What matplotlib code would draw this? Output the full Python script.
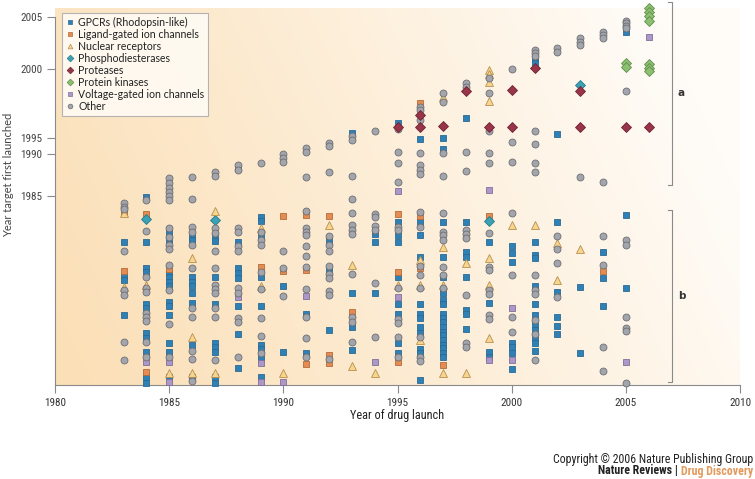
import matplotlib.pyplot as plt
import numpy as np
import pandas as pd
from matplotlib import font_manager
from matplotlib.lines import Line2D

# Vertical level of each point (0 = x axis, ticks below give the target years)
# class codes: G GPCR, L ligand-gated, N nuclear receptor, P PDE,
#              R protease, K kinase, V voltage-gated, O other
pts_1983 = [(182, "O"), (178, "O"), (176, "O"), (172, "L"), (172, "N"), (143, "G"), (134, "O"),
            (114, "L"), (109, "G"), (105, "G"), (98, "N"), (95, "O"), (90, "O"), (70, "G"),
            (43, "O"), (25, "O")]
pts_1984 = [(188, "G"), (185, "O"), (171, "L"), (166, "P"), (154, "O"), (143, "G"), (117, "G"),
            (113, "G"), (108, "O"), (100, "N"), (97, "O"), (93, "O"), (81, "G"), (77, "G"),
            (72, "O"), (68, "O"), (64, "O"), (52, "G"), (47, "G"), (43, "O"), (33, "G"),
            (28, "O"), (23, "V"), (13, "L"), (8, "G"), (2, "G")]
pts_1985 = [(207, "O"), (202, "O"), (197, "O"), (193, "O"), (189, "O"), (185, "O"), (157, "O"),
            (152, "G"), (148, "O"), (145, "G"), (140, "O"), (136, "O"), (120, "O"), (116, "L"),
            (112, "G"), (108, "G"), (103, "G"), (99, "G"), (95, "O"), (83, "G"), (79, "G"),
            (70, "G"), (61, "O"), (42, "G"), (33, "G"), (28, "O"), (23, "V"), (12, "N"),
            (8, "G"), (3, "V")]
pts_1986 = [(208, "O"), (186, "O"), (158, "O"), (153, "O"), (148, "G"), (145, "G"), (140, "O"),
            (127, "N"), (117, "O"), (108, "G"), (103, "G"), (99, "G"), (92, "G"), (82, "G"),
            (77, "O"), (68, "O"), (48, "N"), (40, "G"), (34, "O"), (26, "O"), (12, "N"),
            (8, "G"), (4, "O")]
pts_1987 = [(213, "O"), (209, "O"), (174, "N"), (165, "P"), (157, "O"), (152, "O"), (148, "G"),
            (144, "G"), (134, "O"), (117, "O"), (108, "G"), (100, "O"), (96, "O"), (92, "O"),
            (81, "G"), (77, "O"), (68, "O"), (42, "G"), (38, "G"), (33, "G"), (25, "O"),
            (12, "N"), (8, "G"), (2, "G")]
pts_1988 = [(220, "O"), (217, "G"), (215, "O"), (157, "O"), (153, "O"), (143, "G"), (139, "O"),
            (134, "O"), (117, "G"), (112, "G"), (107, "G"), (97, "O"), (92, "O"), (88, "V"),
            (79, "G"), (67, "O"), (63, "O"), (51, "G"), (28, "O"), (17, "G")]
pts_1989 = [(222, "O"), (168, "G"), (164, "G"), (157, "N"), (153, "O"), (149, "G"), (145, "O"),
            (140, "O"), (118, "L"), (113, "O"), (108, "G"), (99, "N"), (96, "O"), (79, "G"),
            (67, "O"), (49, "O"), (40, "G"), (36, "G"), (32, "O"), (27, "G"), (22, "V"),
            (8, "G"), (3, "V")]
pts_1990 = [(231, "O"), (227, "O"), (223, "O"), (169, "L"), (134, "O"), (117, "O"), (114, "L"),
            (99, "G"), (89, "O"), (33, "G"), (12, "N"), (3, "V")]
pts_1991 = [(237, "O"), (233, "O"), (208, "O"), (174, "O"), (170, "L"), (157, "O"), (153, "O"),
            (150, "O"), (139, "O"), (129, "O"), (118, "O"), (115, "L"), (96, "O"), (89, "V"),
            (71, "G"), (68, "O"), (47, "O"), (32, "G"), (28, "O"), (21, "L")]
pts_1992 = [(242, "O"), (239, "O"), (213, "O"), (169, "L"), (160, "N"), (149, "O"), (144, "G"),
            (140, "O"), (134, "O"), (119, "O"), (115, "G"), (111, "O"), (107, "O"), (94, "O"),
            (90, "O"), (55, "G"), (30, "L"), (26, "O"), (22, "L")]
pts_1993 = [(252, "G"), (249, "O"), (245, "O"), (209, "O"), (186, "O"), (172, "O"), (160, "O"),
            (155, "O"), (151, "O"), (120, "N"), (111, "O"), (92, "G"), (73, "L"), (68, "O"),
            (63, "O"), (58, "G"), (43, "O"), (35, "G"), (19, "N")]
pts_1994 = [(254, "O"), (171, "O"), (168, "O"), (159, "O"), (155, "O"), (151, "G"), (143, "G"),
            (102, "O"), (92, "G"), (48, "O"), (23, "V"), (12, "N")]
pts_1995 = [(262, "G"), (256, "O"), (258, "R"), (233, "O"), (222, "O"), (203, "O"), (194, "V"),
            (171, "L"), (163, "G"), (158, "O"), (155, "O"), (150, "G"), (143, "G"), (113, "L"),
            (108, "G"), (100, "N"), (97, "O"), (88, "V"), (81, "G"), (71, "G"), (66, "O"),
            (62, "O"), (48, "O"), (42, "G"), (32, "G"), (28, "O"), (23, "L")]
pts_1996 = [(282, "L"), (278, "O"), (275, "O"), (270, "R"), (265, "O"), (258, "R"), (246, "G"),
            (232, "O"), (220, "O"), (215, "O"), (211, "O"), (173, "O"), (169, "L"), (163, "G"),
            (158, "O"), (150, "G"), (128, "G"), (125, "N"), (119, "O"), (117, "L"), (110, "O"),
            (100, "N"), (97, "O"), (81, "G"), (71, "G"), (67, "G"), (58, "G"), (52, "G"),
            (48, "O"), (45, "N"), (36, "G"), (32, "G"), (28, "O"), (24, "O"), (5, "G")]
pts_1997 = [(292, "O"), (288, "N"), (283, "O"), (259, "R"), (247, "G"), (236, "G"), (232, "O"),
            (209, "O"), (172, "O"), (163, "G"), (153, "O"), (150, "O"), (145, "O"), (138, "N"),
            (128, "G"), (118, "O"), (110, "O"), (108, "G"), (100, "N"), (97, "O"), (92, "G"),
            (85, "G"), (81, "G"), (71, "G"), (67, "G"), (63, "G"), (58, "G"), (53, "G"),
            (50, "G"), (45, "G"), (40, "G"), (37, "G"), (32, "G"), (28, "G"), (20, "L"),
            (12, "N")]
pts_1998 = [(302, "O"), (298, "O"), (294, "R"), (267, "G"), (233, "O"), (214, "O"), (163, "G"),
            (155, "O"), (151, "O"), (147, "O"), (133, "G"), (128, "G"), (122, "N"), (108, "G"),
            (90, "O"), (75, "G"), (71, "G"), (56, "G"), (42, "O"), (38, "O"), (12, "N")]
pts_1999 = [(315, "N"), (311, "N"), (307, "O"), (303, "N"), (292, "O"), (284, "N"), (254, "O"),
            (258, "R"), (232, "O"), (222, "O"), (195, "V"), (169, "L"), (164, "P"), (152, "O"),
            (143, "G"), (127, "N"), (118, "O"), (115, "O"), (100, "N"), (95, "O"), (91, "O"),
            (82, "G"), (70, "O"), (66, "O"), (47, "N"), (33, "G"), (28, "G"), (25, "V")]
pts_2000 = [(316, "O"), (295, "R"), (258, "R"), (243, "O"), (223, "O"), (172, "O"), (160, "N"),
            (139, "G"), (132, "G"), (123, "G"), (110, "O"), (77, "V"), (68, "O"), (53, "O"),
            (42, "G"), (38, "G"), (32, "G"), (25, "V"), (16, "G")]
pts_2001 = [(335, "O"), (332, "O"), (329, "O"), (326, "G"), (322, "G"), (317, "R"), (254, "O"),
            (241, "O"), (222, "O"), (213, "O"), (160, "N"), (143, "G"), (130, "G"), (127, "G"),
            (110, "O"), (99, "G"), (95, "O"), (91, "O"), (81, "G"), (70, "G"), (65, "O"),
            (60, "G"), (55, "G"), (51, "O"), (47, "G"), (42, "G"), (34, "G"), (25, "O")]
pts_2002 = [(337, "O"), (333, "O"), (251, "G"), (163, "G"), (149, "O"), (142, "N"), (136, "O"),
            (122, "O"), (105, "N"), (93, "G"), (88, "O"), (68, "G"), (59, "G"), (51, "G")]
pts_2003 = [(347, "O"), (343, "O"), (340, "O"), (300, "P"), (294, "R"), (258, "R"), (208, "O"),
            (136, "N"), (98, "G"), (32, "G")]
pts_2004 = [(353, "O"), (350, "O"), (347, "O"), (203, "O"), (149, "O"), (133, "G"), (120, "O"),
            (114, "L"), (107, "G"), (79, "G"), (38, "O"), (14, "O")]
pts_2005 = [(364, "O"), (362, "O"), (359, "O"), (357, "O"), (353, "G"), (322, "K"), (318, "K"),
            (294, "O"), (258, "R"), (170, "G"), (145, "O"), (140, "O"), (97, "G"), (68, "O"),
            (57, "O"), (54, "O"), (23, "V"), (2, "O")]
pts_2006 = [(377, "K"), (373, "K"), (369, "K"), (364, "K"), (348, "V"), (321, "K"), (317, "K"),
            (314, "K"), (258, "R")]

launch_years = list(range(1983, 2007))
year_points = [pts_1983, pts_1984, pts_1985, pts_1986, pts_1987, pts_1988, pts_1989, pts_1990,
               pts_1991, pts_1992, pts_1993, pts_1994, pts_1995, pts_1996, pts_1997, pts_1998,
               pts_1999, pts_2000, pts_2001, pts_2002, pts_2003, pts_2004, pts_2005, pts_2006]

ytick_pos = [368, 316, 247, 231, 189]
ytick_labels = ["2005", "2000", "1995", "1990", "1985"]
xticks = [1980, 1985, 1990, 1995, 2000, 2005, 2010]

# label, marker, face, edge, size
STYLES = {
    "G": ("GPCRs (Rhodopsin-like)", "s", "#2f80b4", "#2a6a94", 4.8),
    "L": ("Ligand-gated ion channels", "s", "#e48c52", "#b56a3a", 4.8),
    "N": ("Nuclear receptors", "^", "#f8d58e", "#b89050", 6.2),
    "P": ("Phosphodiesterases", "D", "#3aa2b4", "#2a7a88", 4.6),
    "R": ("Proteases", "D", "#983549", "#6e2233", 4.6),
    "K": ("Protein kinases", "D", "#8cc070", "#5f8f4c", 4.6),
    "V": ("Voltage-gated ion channels", "s", "#ab98c8", "#7f6f9a", 4.8),
    "O": ("Other", "o", "#a3a5ac", "#6d6e73", 5.0),
}
LEGEND_ORDER = ["G", "L", "N", "P", "R", "K", "V", "O"]


def pick_narrow_font():
    names = sorted({f.name for f in font_manager.fontManager.ttflist})
    for want in ["Liberation Sans Narrow", "DejaVu Sans Condensed", "Roboto Condensed",
                 "Open Sans Condensed", "Noto Sans Condensed"]:
        if want in names:
            return [want, "DejaVu Sans"]
    return ["Roboto", "DejaVu Sans"]


rows = []
for yr, pts in zip(launch_years, year_points):
    for level, cls in pts:
        rows.append({"year": yr, "level": level, "cls": cls})
df = pd.DataFrame(rows)

narrow = pick_narrow_font()
body_font = ["Lato", "DejaVu Sans"]

fig = plt.figure(figsize=(7.55, 4.79), dpi=100)
fig.patch.set_facecolor("white")
ax = fig.add_axes([55 / 755, 1 - 385 / 479, 685 / 755, 385 / 479])
ax.set_xlim(1980, 2010)
ax.set_ylim(0, 385)
ax.set_facecolor("none")

# peach -> white background wash
nx, ny = 300, 120
gx = np.linspace(0, 1, nx)[None, :]
gy = np.linspace(0, 1, ny)[:, None]
t = np.clip(0.9 * gx + 0.22 * gy, 0, 1) ** 1.1
peach = np.array([251, 223, 182]) / 255
white = np.array([255, 252, 248]) / 255
img = peach[None, None, :] * (1 - t[..., None]) + white[None, None, :] * t[..., None]
ax.imshow(img, extent=[1980, 2010.3, 0, 377], origin="lower", aspect="auto", zorder=0)

for cls in ["G", "L", "V", "P", "N", "O", "R", "K"]:
    sub = df[df["cls"] == cls]
    label, mk, fc, ec, ms = STYLES[cls]
    ax.plot(sub["year"], sub["level"], linestyle="none", marker=mk, markersize=ms,
            markerfacecolor=fc, markeredgecolor=ec, markeredgewidth=0.6, zorder=3,
            clip_on=False)

for s in ["top", "right"]:
    ax.spines[s].set_visible(False)
ax.spines["left"].set_bounds(0, 368)
for s in ["left", "bottom"]:
    ax.spines[s].set_color("#8a8a8a")
    ax.spines[s].set_linewidth(0.8)

ax.set_yticks(ytick_pos)
ax.set_yticklabels(ytick_labels, family=narrow, fontsize=8, color="#444444")
ax.set_xticks(xticks)
ax.set_xticklabels([str(x) for x in xticks], family=narrow, fontsize=8, color="#333333")
ax.tick_params(axis="both", length=6, width=0.8, color="#8a8a8a", pad=3)

ax.set_xlabel("Year of drug launch", family=narrow, fontsize=8.8, color="#222222", labelpad=1)
fig.text(9 / 755, 1 - 175 / 479, "Year target first launched", rotation=90, ha="center",
         va="center", family=body_font, fontsize=8, color="#444444")

# brackets a and b
bx = 2007.03
for top, bot, lab in [(383, 200, "a"), (175, 3, "b")]:
    ax.plot([bx - 0.2, bx, bx, bx - 0.2], [top, top, bot, bot], color="#8a8a8a", lw=0.8,
            clip_on=False, zorder=2)
    ax.text(bx + 0.25, (top + bot) / 2, lab, fontsize=7.5, fontweight="bold",
            color="#333333", ha="left", va="center")

handles = [Line2D([], [], linestyle="none", marker=STYLES[c][1], markersize=3.4,
                  markerfacecolor=STYLES[c][2], markeredgecolor=STYLES[c][3],
                  markeredgewidth=0.5, label=STYLES[c][0]) for c in LEGEND_ORDER]
leg = ax.legend(handles=handles, loc="upper left", bbox_to_anchor=(7 / 685, 1 - 13 / 385),
                prop={"family": body_font, "size": 7.6},
                frameon=True, fancybox=False, handlelength=0.8, handletextpad=0.4,
                labelspacing=0.1, borderpad=0.35, borderaxespad=0)
leg.get_frame().set_edgecolor("#b0b0b0")
leg.get_frame().set_linewidth(0.8)
leg.get_frame().set_facecolor("#fffaf2")
leg.get_frame().set_alpha(0.95)
for txt in leg.get_texts():
    txt.set_color("#222222")

fig.text(753 / 755, 1 - 459 / 479, "Copyright \u00a9 2006 Nature Publishing Group", ha="right",
         va="center", family=narrow, fontsize=8.6, color="#222222")
dd = fig.text(753 / 755, 1 - 471 / 479, "Drug Discovery", ha="right", va="center",
              family=narrow, fontsize=8.6, color="#e39a5c", fontweight="bold")
fig.canvas.draw()
bb = dd.get_window_extent()
fig.text(bb.x0 / fig.bbox.width, 1 - 471 / 479, "Nature Reviews | ", ha="right", va="center",
         family=narrow, fontsize=8.6, color="#222222", fontweight="bold")

fig.savefig("out.png", dpi=100)
